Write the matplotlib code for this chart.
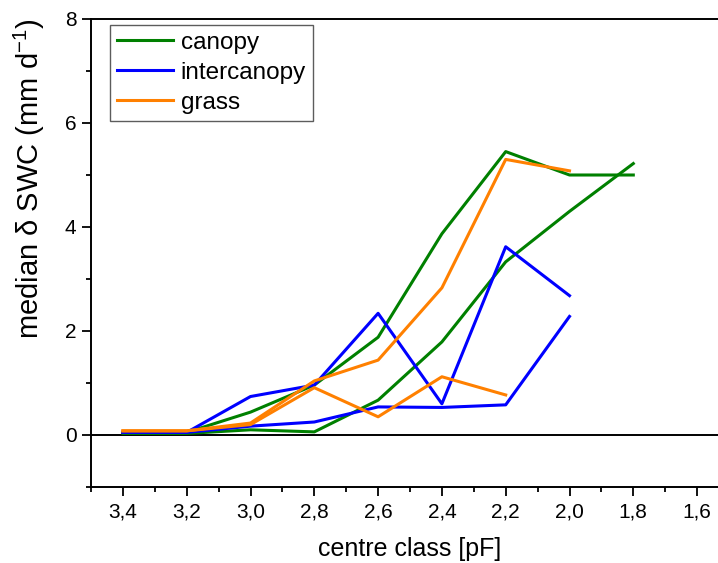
import matplotlib.pyplot as plt
from matplotlib.ticker import MultipleLocator, FuncFormatter

plt.rcParams['font.family'] = ['Liberation Sans', 'DejaVu Sans']

# pF centre classes
pf = [3.4, 3.2, 3.0, 2.8, 2.6, 2.4, 2.2, 2.0, 1.8]

# two curves per cover type
canopy_a = [0.05, 0.05, 0.44, 0.96, 1.88, 3.87, 5.45, 5.0, 5.0]
canopy_b = [0.03, 0.03, 0.10, 0.06, 0.67, 1.79, 3.33, 4.3, 5.22]
inter_a = [0.05, 0.05, 0.74, 0.96, 2.34, 0.60, 3.62, 2.68]
inter_b = [0.05, 0.05, 0.17, 0.25, 0.54, 0.53, 0.58, 2.28]
grass_a = [0.08, 0.08, 0.23, 1.04, 1.44, 2.83, 5.30, 5.08]
grass_b = [0.08, 0.08, 0.20, 0.91, 0.35, 1.12, 0.77]

fig = plt.figure(figsize=(7.18, 5.63), dpi=100)
ax = fig.add_axes([91/718, 76/563, 638/718, 468/563])

lw = 2.2
ax.axhline(0, color='black', lw=1.4, zorder=1)
ax.plot(pf, canopy_a, color='#008000', lw=lw, label='canopy')
ax.plot(pf, canopy_b, color='#008000', lw=lw)
ax.plot(pf[:len(inter_a)], inter_a, color='#0000ff', lw=lw, label='intercanopy')
ax.plot(pf[:len(inter_b)], inter_b, color='#0000ff', lw=lw)
ax.plot(pf[:len(grass_a)], grass_a, color='#ff8000', lw=lw, label='grass')
ax.plot(pf[:len(grass_b)], grass_b, color='#ff8000', lw=lw)

ax.set_xlim(3.5, 1.5)
ax.set_ylim(-1, 8)
ax.xaxis.set_minor_locator(MultipleLocator(0.1))
ax.yaxis.set_major_locator(MultipleLocator(2))
ax.yaxis.set_minor_locator(MultipleLocator(1))
ax.set_xticks([3.4, 3.2, 3.0, 2.8, 2.6, 2.4, 2.2, 2.0, 1.8, 1.6])
ax.xaxis.set_major_formatter(FuncFormatter(lambda v, p: f'{v:.1f}'.replace('.', ',')))

ax.tick_params(which='major', direction='out', length=6.5, width=1.3, labelsize=15)
ax.tick_params(which='minor', direction='out', length=3.6, width=1.3)
ax.tick_params(axis='x', which='major', pad=4.5)
ax.tick_params(axis='y', which='major', pad=4)
for s in ax.spines.values():
    s.set_linewidth(1.4)

ax.set_xlabel('centre class [pF]', fontsize=18, labelpad=11)
ax.set_ylabel(r'median $\mathregular{\delta}$ SWC (mm d$\mathregular{^{-1}}$)', fontsize=21)
ax.yaxis.set_label_coords(-0.069, 0.66)

leg = ax.legend(loc='upper left', bbox_to_anchor=(0.03, 0.988), fontsize=17.5,
                handlelength=2.3, handletextpad=0.3, labelspacing=0.33,
                borderpad=0.3, borderaxespad=0, fancybox=False, frameon=True)
leg.get_frame().set_edgecolor('#333333')
leg.get_frame().set_linewidth(1.0)

fig.savefig('out.png', dpi=100)
